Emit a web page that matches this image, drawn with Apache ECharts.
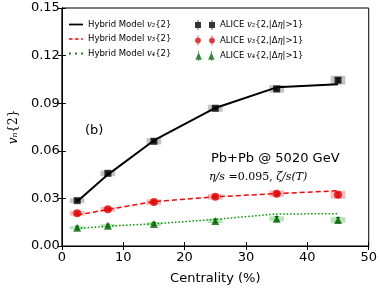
<!DOCTYPE html>
<html><head><meta charset="utf-8">
<script src="https://cdn.jsdelivr.net/npm/echarts@6/dist/echarts.min.js"></script>
<style>html,body{margin:0;padding:0;background:#fff}#c{width:380px;height:295px}</style>
</head><body><div id="c"></div>
<script>
var centrality = [2.5, 7.5, 15, 25, 35, 45];
var modelV2 = [0.028, 0.045, 0.0665, 0.087, 0.1, 0.102];
var modelV3 = [0.0195, 0.023, 0.028, 0.031, 0.033, 0.0348];
var modelV4 = [0.011, 0.0125, 0.014, 0.0168, 0.0202, 0.0203];
var aliceV2 = [0.0286, 0.0458, 0.066, 0.0868, 0.099, 0.1045];
var aliceV3 = [0.0206, 0.0231, 0.0277, 0.031, 0.033, 0.0323];
var aliceV4 = [0.0115, 0.0128, 0.0139, 0.0158, 0.0172, 0.0164];
var statV2 = [0.0006, 0.0006, 0.0006, 0.0006, 0.0008, 0.001];
var statV3 = [0.0008, 0.0008, 0.0008, 0.0008, 0.001, 0.0012];
var statV4 = [0.001, 0.001, 0.001, 0.0012, 0.0014, 0.0016];
var sysV2 = [0.0015, 0.0018, 0.002, 0.0022, 0.0024, 0.0028];
var sysV3 = [0.0015, 0.0015, 0.0018, 0.0018, 0.002, 0.0025];
var sysV4 = [0.001, 0.001, 0.0012, 0.0013, 0.0015, 0.0018];
var xTicks = [0, 10, 20, 30, 40, 50];
var yTicks = [0.00, 0.03, 0.06, 0.09, 0.12, 0.15];

var names = {
  m2: 'Hybrid Model v2{2}', m3: 'Hybrid Model v3{2}', m4: 'Hybrid Model v4{2}',
  a2: 'ALICE v2{2,|Δη|>1}', a3: 'ALICE v3{2,|Δη|>1}', a4: 'ALICE v4{2,|Δη|>1}'
};
var sub = {'2': '₂', '3': '₃', '4': '₄'};
function legendFmt(n) {
  var k = n.match(/v(\d)/)[1];
  if (n.indexOf('Hybrid') === 0) return '{t|Hybrid Model }{m|v' + sub[k] + '}{2}';
  return '{t|ALICE }{m|v' + sub[k] + '}{2,|Δ{m|η}|>1}';
}
function pair(arr) { return centrality.map(function (c, i) { return [c, arr[i]]; }); }
function errData(vals, stat, sys) { return centrality.map(function (c, i) { return [c, vals[i], stat[i], sys[i]]; }); }

function errSeries(vals, stat, sys, boxColor, barColor) {
  return {
    type: 'custom', data: errData(vals, stat, sys), z: 1, silent: true,
    renderItem: function (params, api) {
      var x = api.value(0), y = api.value(1), s = api.value(2), e = api.value(3);
      var p1 = api.coord([x - 1.2, y + e]), p2 = api.coord([x + 1.2, y - e]);
      var t = api.coord([x, y + s]), b = api.coord([x, y - s]);
      return {
        type: 'group', children: [
          { type: 'rect', shape: { x: p1[0], y: p1[1], width: p2[0] - p1[0], height: p2[1] - p1[1] }, style: { fill: boxColor } },
          { type: 'line', shape: { x1: t[0], y1: t[1], x2: b[0], y2: b[1] }, style: { stroke: barColor, lineWidth: 1 } },
          { type: 'line', shape: { x1: t[0] - 2, y1: t[1], x2: t[0] + 2, y2: t[1] }, style: { stroke: barColor, lineWidth: 1 } },
          { type: 'line', shape: { x1: b[0] - 2, y1: b[1], x2: b[0] + 2, y2: b[1] }, style: { stroke: barColor, lineWidth: 1 } }
        ]
      };
    }
  };
}

var richL = {
  t: { fontFamily: 'DejaVu Sans', fontSize: 8.5, color: '#000' },
  m: { fontFamily: 'DejaVu Serif', fontStyle: 'italic', fontSize: 8.5, color: '#000' }
};
var icoSolid = 'path://M0,0h16v2h-16z';
var icoDash = 'path://M0,0h4v1.6h-4z M7,0h4v1.6h-4z M14,0h2v1.6h-2z';
var icoDot = 'path://M1,0h1.5v1.5h-1.5z M6,0h1.5v1.5h-1.5z M11,0h1.5v1.5h-1.5z';
var icoSq = 'path://M0,3h6v6h-6z M2.6,1h0.8v10h-0.8z M14,3h6v6h-6z M16.6,1h0.8v10h-0.8z';
var icoCi = 'path://M1.8,3.2L4.2,3.2L5.8,4.8L5.8,7.2L4.2,8.8L1.8,8.8L0.2,7.2L0.2,4.8Z M2.6,1h0.8v10h-0.8z M15.8,3.2L18.2,3.2L19.8,4.8L19.8,7.2L18.2,8.8L15.8,8.8L14.2,7.2L14.2,4.8Z M16.6,1h0.8v10h-0.8z';
var icoTr = 'path://M3,2L6.5,10L-0.5,10Z M2.6,0.5h0.8v11h-0.8z M17,2L20.5,10L13.5,10Z M16.6,0.5h0.8v11h-0.8z';

var chart = echarts.init(document.getElementById('c'), null, { renderer: 'canvas' });
chart.setOption({
  animation: false,
  backgroundColor: '#fff',
  grid: { left: 53, right: 10, top: 8, bottom: 49, show: true, borderColor: '#000', borderWidth: 1, backgroundColor: 'transparent' },
  legend: [
    {
      data: [
        { name: names.m2, icon: icoSolid, itemStyle: { color: '#000' } },
        { name: names.m3, icon: icoDash, itemStyle: { color: '#ff0000' } },
        { name: names.m4, icon: icoDot, itemStyle: { color: '#008000' } }
      ],
      orient: 'vertical', left: 64, top: 15, itemGap: 5.5,
      itemWidth: 14, itemHeight: 10, symbolKeepAspect: true, formatter: legendFmt,
      textStyle: { fontFamily: 'DejaVu Sans', fontSize: 8.5, color: '#000', rich: richL }
    },
    {
      data: [
        { name: names.a2, icon: icoSq, itemStyle: { color: '#000' } },
        { name: names.a3, icon: icoCi, itemStyle: { color: '#e00000' } },
        { name: names.a4, icon: icoTr, itemStyle: { color: '#006600' } }
      ],
      orient: 'vertical', left: 190, top: 15, itemGap: 5.5,
      itemWidth: 20, itemHeight: 10, formatter: legendFmt,
      textStyle: { fontFamily: 'DejaVu Sans', fontSize: 8.5, color: '#000', rich: richL }
    }
  ],
  xAxis: [
    {
      type: 'value', min: 0, max: 50, interval: 10,
      name: 'Centrality (%)', nameLocation: 'middle', nameGap: 26,
      nameTextStyle: { fontFamily: 'DejaVu Sans', fontSize: 13, color: '#000' },
      axisLine: { show: true, lineStyle: { color: '#000' } },
      axisTick: { show: true, inside: true, length: 4, lineStyle: { color: '#000' } },
      axisLabel: { fontFamily: 'DejaVu Sans', fontSize: 13, color: '#000', margin: 5 },
      splitLine: { show: false }
    },
    {
      type: 'value', min: 0, max: 50, interval: 10, position: 'top',
      axisLine: { show: true, lineStyle: { color: '#000' } },
      axisTick: { show: true, inside: true, length: 4, lineStyle: { color: '#000' } },
      axisLabel: { show: false }, splitLine: { show: false }
    }
  ],
  yAxis: [
    {
      type: 'value', min: 0, max: 0.15, interval: 0.03,
      name: '{m|vₙ}{2}', nameLocation: 'middle', nameGap: 34, nameRotate: 90,
      nameTextStyle: { fontFamily: 'DejaVu Serif', fontSize: 12, color: '#000', rich: { m: { fontFamily: 'DejaVu Serif', fontStyle: 'italic', fontSize: 12 } } },
      axisLine: { show: true, lineStyle: { color: '#000' } },
      axisTick: { show: true, inside: true, length: 4, lineStyle: { color: '#000' } },
      axisLabel: { fontFamily: 'DejaVu Sans', fontSize: 13, color: '#000', margin: 2, formatter: function (v) { return v.toFixed(2); } },
      splitLine: { show: false }
    },
    {
      type: 'value', min: 0, max: 0.15, interval: 0.03, position: 'right',
      axisLine: { show: true, lineStyle: { color: '#000' } },
      axisTick: { show: true, inside: true, length: 4, lineStyle: { color: '#000' } },
      axisLabel: { show: false }, splitLine: { show: false }
    }
  ],
  series: [
    errSeries(aliceV2, statV2, sysV2, 'rgba(150,150,150,0.55)', '#000'),
    errSeries(aliceV3, statV3, sysV3, 'rgba(240,120,120,0.5)', '#e00000'),
    errSeries(aliceV4, statV4, sysV4, 'rgba(120,200,120,0.5)', '#006600'),
    { name: names.m2, type: 'line', data: pair(modelV2), symbol: 'none', z: 3, color: '#000', lineStyle: { color: '#000', width: 2 } },
    { name: names.m3, type: 'line', data: pair(modelV3), symbol: 'none', z: 3, color: '#ff0000', lineStyle: { color: '#ff0000', width: 1.5, type: [5, 3] } },
    { name: names.m4, type: 'line', data: pair(modelV4), symbol: 'none', z: 3, color: '#008000', lineStyle: { color: '#009900', width: 1.5, type: [1.5, 2] } },
    { name: names.a2, type: 'scatter', data: pair(aliceV2), symbol: 'rect', symbolSize: 7, z: 4, itemStyle: { color: '#000' } },
    { name: names.a3, type: 'scatter', data: pair(aliceV3), symbol: 'circle', symbolSize: 8, z: 4, itemStyle: { color: '#e00000' } },
    { name: names.a4, type: 'scatter', data: pair(aliceV4), symbol: 'triangle', symbolSize: 8, z: 4, itemStyle: { color: '#006600' } }
  ],
  graphic: [
    { type: 'text', left: 85, top: 124, style: { text: '(b)', fontFamily: 'DejaVu Sans', fontSize: 13, fill: '#000' } },
    { type: 'text', left: 211, top: 152, style: { text: 'Pb+Pb @ 5020 GeV', fontFamily: 'DejaVu Sans', fontSize: 13, fill: '#000' } },
    { type: 'text', left: 209, top: 172, style: {
      text: '{i|η/s} =0.095, {i|ζ/s(T)}', fontFamily: 'DejaVu Serif', fontSize: 11, fill: '#000',
      rich: { i: { fontFamily: 'DejaVu Serif', fontStyle: 'italic', fontSize: 11, fill: '#000' } }
    } }
  ]
});
</script></body></html>
